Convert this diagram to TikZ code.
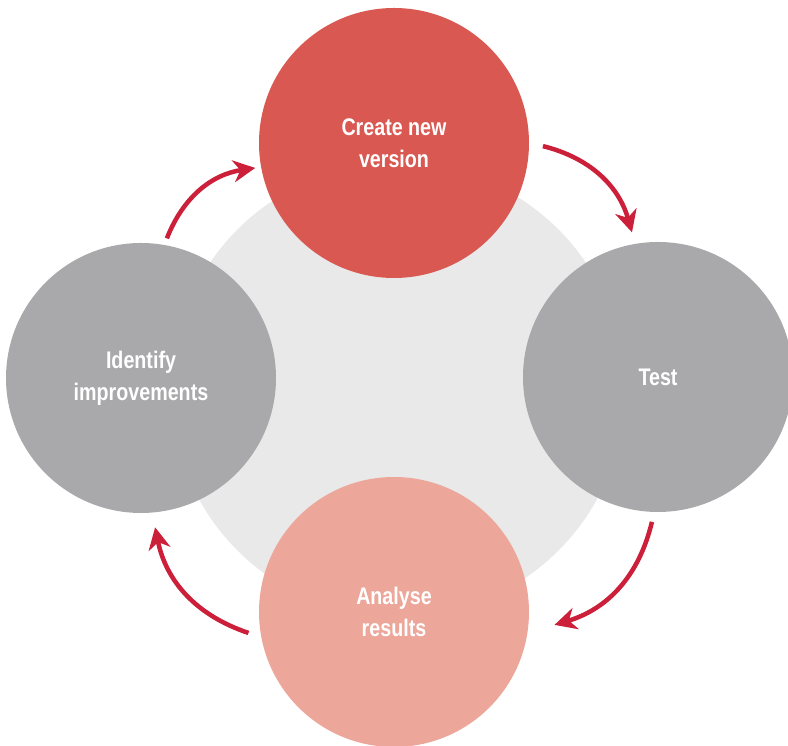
\documentclass[tikz,border=0pt]{standalone}
\usepackage{fontspec}
\newfontfamily\labfont[FakeStretch=0.82]{Liberation Sans}
\usetikzlibrary{arrows.meta,calc}
\definecolor{topred}{HTML}{D95852}
\definecolor{midgray}{HTML}{A9A9AB}
\definecolor{pinkc}{HTML}{ECA69A}
\definecolor{bglight}{HTML}{E9E9E9}
\definecolor{arrowred}{HTML}{CC1F3A}
\tikzset{
  stage/.style={circle, minimum size=270pt, inner sep=0pt, text=white,
    font=\labfont\bfseries\fontsize{24}{32}\selectfont, align=center},
  cyclearrow/.style={draw=arrowred, line width=4.5pt,
    -{Stealth[length=22pt,width=22pt,inset=7pt]}, bend left=30}
}
\begin{document}
\begin{tikzpicture}[x=1pt,y=1pt]
\useasboundingbox (0,0) rectangle (788,746);
\begin{scope}
\clip (0,0) rectangle (788,746);
\node[circle, fill=bglight, minimum size=454pt, inner sep=0pt] (bg) at (398,356) {};
\node[stage, fill=topred] (T) at (394,603) {Create new\\version};
\node[stage, fill=midgray] (R) at (658,369) {Test};
\node[stage, fill=pinkc] (B) at (394,134) {Analyse\\results};
\node[stage, fill=midgray] (L) at (141,368) {Identify\\improvements};
\end{scope}
\coordinate (a1s) at ($(L.center)+(79.5:142)$);
\coordinate (a1e) at ($(T.center)+(190.2:141)$);
\coordinate (a2s) at ($(T.center)+(-1.2:149)$);
\coordinate (a2e) at ($(R.center)+(100.2:147)$);
\coordinate (a3s) at ($(R.center)+(267.6:145)$);
\coordinate (a3e) at ($(B.center)+(-4.6:161)$);
\coordinate (a4s) at ($(B.center)+(188.2:147)$);
\coordinate (a4e) at ($(L.center)+(275.4:150)$);
\draw[cyclearrow] (a1s) to (a1e);
\draw[cyclearrow] (a2s) to (a2e);
\draw[cyclearrow] (a3s) to (a3e);
\draw[cyclearrow] (a4s) to (a4e);
\end{tikzpicture}
\end{document}
